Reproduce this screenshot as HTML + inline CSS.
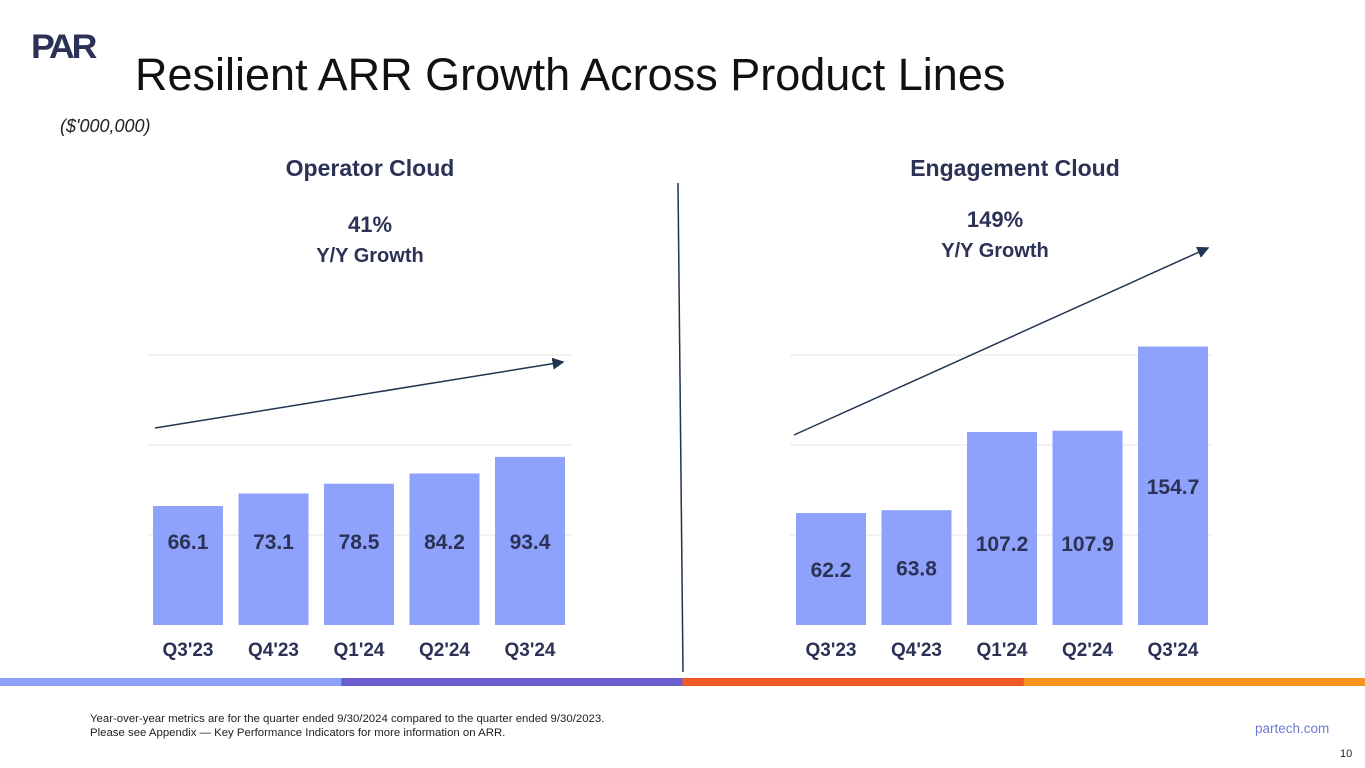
<!DOCTYPE html>
<html><head><meta charset="utf-8"><style>
body{margin:0;width:1365px;height:768px;background:#fff;position:relative;overflow:hidden;font-family:"Liberation Sans",Arial,sans-serif}
.abs{position:absolute}
</style></head><body>
<div class="abs" style="left:31px;top:28px;font-weight:900;font-size:34px;color:#2b3256;letter-spacing:-3px;transform:scaleX(1.05);transform-origin:left">PAR</div>
<div class="abs" style="left:135px;top:49px;font-size:45px;color:#111">Resilient ARR Growth Across Product Lines</div>
<div class="abs" style="left:60px;top:116px;font-size:18px;font-style:italic;color:#222">($'000,000)</div>
<svg class="abs" style="left:0;top:0" width="1365" height="768" id="chart">
<defs><marker id="ah" markerWidth="8" markerHeight="8" refX="7" refY="4" orient="auto"><path d="M0,0L8,4L0,8z" fill="#1f3550"/></marker></defs>
</svg>
<div class="abs" style="left:90px;top:713px;font-size:11.4px;color:#222;line-height:13.5px">Year-over-year metrics are for the quarter ended 9/30/2024 compared to the quarter ended 9/30/2023.<br>Please see Appendix — Key Performance Indicators for more information on ARR.</div>
<div class="abs" style="left:1255px;top:721px;font-size:13.5px;color:#6f7bd0">partech.com</div>
<div class="abs" style="left:1340px;top:748px;font-size:11px;color:#222">10</div>
<script>
const categories=["Q3'23","Q4'23","Q1'24","Q2'24","Q3'24"];
const operatorValues=[66.1,73.1,78.5,84.2,93.4];
const engagementValues=[62.2,63.8,107.2,107.9,154.7];
const gridTicks=[50,100,150];
const titles=["Operator Cloud","Engagement Cloud"];
const growthLabels=["41%","149%"];
const NS="http://www.w3.org/2000/svg";
const svg=document.getElementById('chart');
function mk(t,a,p){const e=document.createElementNS(NS,t);for(const k in a)e.setAttribute(k,a[k]);(p||svg).appendChild(e);return e;}
const base=625,scale=1.8;
function y(v){return base-v*scale;}
const panels=[{x0:153,gl0:147,gl1:572,vals:operatorValues,arrow:[155,428,563,362],cx:370,gx:370,gy:232},
{x0:796,gl0:790,gl1:1212,vals:engagementValues,arrow:[794,435,1208,248],cx:1015,gx:995,gy:227}];
panels.forEach((p,pi)=>{
 gridTicks.forEach(t=>{const l=mk('line',{x1:p.gl0,x2:p.gl1,y1:y(t),y2:y(t),stroke:'#e4e4e4','stroke-width':1});
 
 });
 p.vals.forEach((v,i)=>{const bx=p.x0+i*85.5;
  const r=mk('rect',{x:bx,y:y(v),width:70,height:v*scale,fill:'#8fa2fb'});
  
  
  let ly=y(v)+v*scale/2;
  if(pi===0) ly=Math.min(ly,541); else if(v>100&&v<130) ly=543;
  const tx=mk('text',{x:bx+35,y:ly+8,'text-anchor':'middle','font-size':21,'font-weight':'bold',fill:'#2b3256'});tx.textContent=v.toFixed(1);
  
  
  const c=mk('text',{x:bx+35,y:656,'text-anchor':'middle','font-size':19,'font-weight':'bold',fill:'#2b3256'});c.textContent=categories[i];
  
  
 });
 const a=mk('line',{x1:p.arrow[0],y1:p.arrow[1],x2:p.arrow[2],y2:p.arrow[3],stroke:'#1f3550','stroke-width':1.5,'marker-end':'url(#ah)'});
 
 
 const t=mk('text',{x:p.cx,y:176,'text-anchor':'middle','font-size':23,'font-weight':'bold',fill:'#2b3256'});t.textContent=titles[pi];
 
 
 const g=mk('text',{x:p.gx,y:p.gy,'text-anchor':'middle','font-size':22,'font-weight':'bold',fill:'#2b3256'});g.textContent=growthLabels[pi];
 
 
 const g2=mk('text',{x:p.gx,y:p.gy+30,'text-anchor':'middle','font-size':20,'font-weight':'bold',fill:'#2b3256'});g2.textContent='Y/Y Growth';
 
 
});
const d=mk('line',{x1:678,y1:183,x2:683,y2:672,stroke:'#1f3550','stroke-width':1.5});


['#8fa2fb','#6a5fcf','#f25a24','#f7941d'].forEach((c,i)=>{const r=mk('rect',{x:i*341.25,y:678,width:341.5,height:8,fill:c});
 
 });
</script>
</body></html>
